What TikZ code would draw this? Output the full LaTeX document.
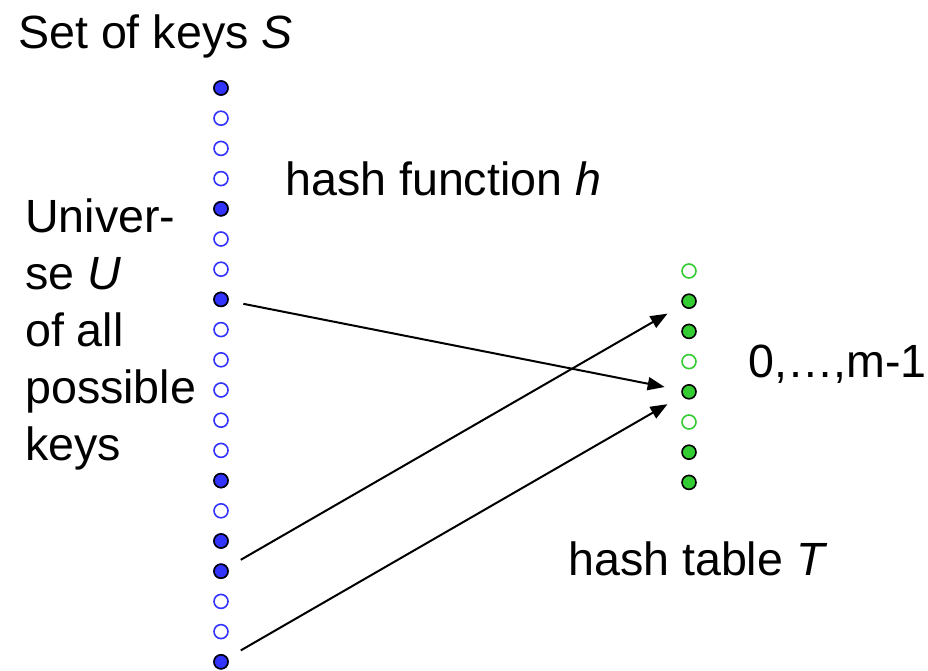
\documentclass[tikz,border=0pt]{standalone}
\usepackage{fontspec}
\setmainfont{Liberation Sans}
\usetikzlibrary{arrows.meta}
\definecolor{keyblue}{RGB}{51,51,255}
\definecolor{slotgreen}{RGB}{51,204,51}
\tikzset{
  lbl/.style={anchor=base west, inner sep=0pt, font=\fontsize{46.6}{56}\selectfont},
  dotbase/.style={circle, minimum size=14pt, inner sep=0pt, line width=1.6pt},
  keyfull/.style={dotbase, draw=black, fill=keyblue},
  keyempty/.style={dotbase, draw=keyblue, fill=white},
  slotfull/.style={dotbase, draw=black, fill=slotgreen},
  slotempty/.style={dotbase, draw=slotgreen, fill=white},
  hasharrow/.style={line width=2pt, -{Triangle[length=17pt,width=13pt]}, shorten <=15pt, shorten >=17pt}
}
\begin{document}
\begin{tikzpicture}[x=1pt,y=-1pt]
\useasboundingbox (0,0) rectangle (928,670);
% texts
\node[lbl] (setS) at (18,48) {Set of keys \textit{S}};
\node[lbl] (hfun) at (285,195) {hash function \textit{h}};
\node[lbl] (u1) at (25,232) {Univer-};
\node[lbl] (u2) at (25,289) {se \textit{U}};
\node[lbl] (u3) at (25,346) {of all};
\node[lbl] (u4) at (25,403) {possible};
\node[lbl] (u5) at (25,460) {keys};
\node[lbl] (range) at (748,377) {0,…,m-1};
\node[lbl] (htab) at (568,575) {hash table \textit{T}};
% universe keys
\foreach \k in {0,...,19} {
  \pgfmathsetmacro{\yy}{88+30.2*\k}
  \node[keyempty] (l\k) at (221,\yy) {};
}
\foreach \k in {0,4,7,13,15,16,19} {
  \pgfmathsetmacro{\yy}{88+30.2*\k}
  \node[keyfull] (l\k) at (221,\yy) {};
}
% table slots
\foreach \j/\st in {0/slotempty,1/slotfull,2/slotfull,3/slotempty,4/slotfull,5/slotempty,6/slotfull,7/slotfull} {
  \pgfmathsetmacro{\yy}{271+30.2*\j}
  \node[\st] (r\j) at (689,\yy) {};
}
% arrows
\draw[hasharrow] (l7) -- (r4);
\draw[hasharrow] (l16) -- (r1);
\draw[hasharrow] (l19) -- (r4);
\end{tikzpicture}
\end{document}
